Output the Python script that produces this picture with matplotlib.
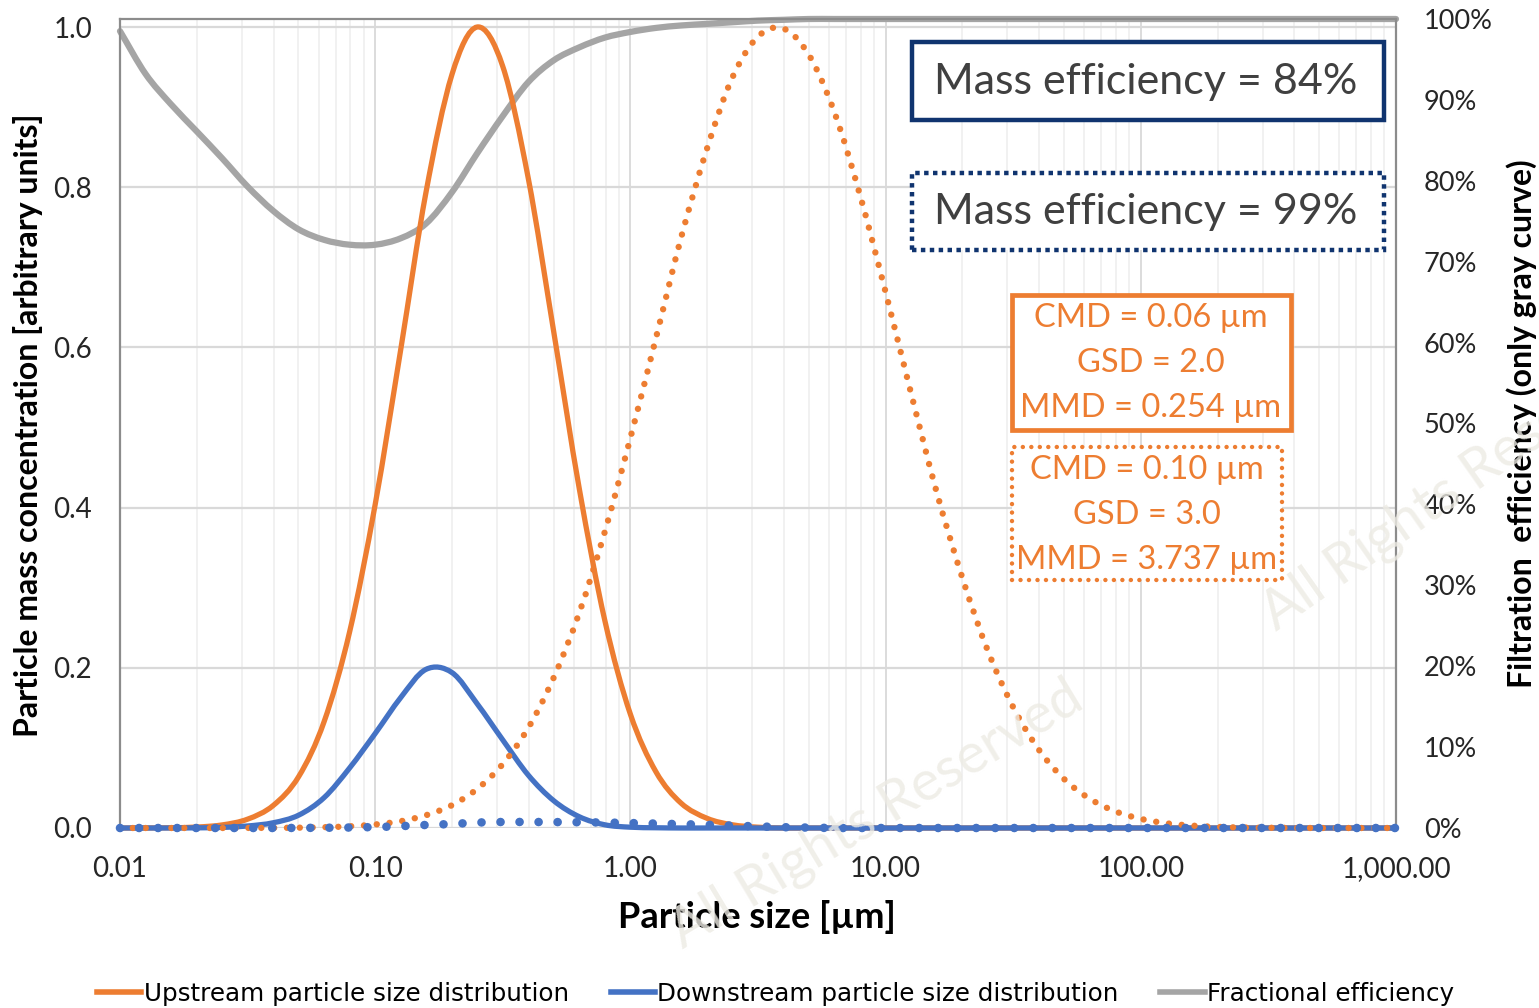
import numpy as np
import matplotlib
matplotlib.use("Agg")
import matplotlib.pyplot as plt
from matplotlib.patches import Rectangle, PathPatch
from matplotlib.path import Path
from matplotlib.ticker import FixedLocator, NullFormatter

# particle sizes [um], 10 per decade
sizes = [0.0100, 0.0126, 0.0158, 0.0200, 0.0251, 0.0316, 0.0398, 0.0501, 0.0631, 0.0794,
         0.100, 0.126, 0.158, 0.200, 0.251, 0.316, 0.398, 0.501, 0.631, 0.794,
         1.00, 1.26, 1.58, 2.00, 2.51, 3.16, 3.98, 5.01, 6.31, 7.94,
         10.0, 12.6, 15.8, 20.0, 25.1, 31.6, 39.8, 50.1, 63.1, 79.4,
         100.0, 126.0, 158.0, 200.0, 251.0, 316.0, 398.0, 501.0, 631.0, 794.0,
         1000.0]

# upstream / downstream, case 1 (solid)
upstream_1 = [0, 0.0001, 0.0003, 0.0012, 0.0038, 0.011, 0.028, 0.064, 0.133, 0.245,
              0.404, 0.598, 0.793, 0.941, 1.000, 0.951, 0.811, 0.619, 0.423, 0.259,
              0.142, 0.070, 0.031, 0.012, 0.004, 0.001, 0, 0, 0, 0,
              0, 0, 0, 0, 0, 0, 0, 0, 0, 0,
              0, 0, 0, 0, 0, 0, 0, 0, 0, 0, 0]
downstream_1 = [0, 0, 0, 0.0002, 0.0007, 0.0025, 0.0065, 0.016, 0.038, 0.075,
                0.118, 0.163, 0.198, 0.194, 0.155, 0.110, 0.066, 0.034, 0.014, 0.004,
                0.001, 0.0003, 0, 0, 0, 0, 0, 0, 0, 0,
                0, 0, 0, 0, 0, 0, 0, 0, 0, 0,
                0, 0, 0, 0, 0, 0, 0, 0, 0, 0, 0]

# upstream / downstream, case 2 (dotted)
upstream_2 = [0, 0, 0, 0, 0, 0.0001, 0.0002, 0.0004, 0.001, 0.0021,
              0.0044, 0.0085, 0.0159, 0.0285, 0.0488, 0.0798, 0.125, 0.188, 0.269, 0.370,
              0.487, 0.612, 0.737, 0.849, 0.937, 0.988, 0.998, 0.965, 0.893, 0.790,
              0.669, 0.542, 0.421, 0.312, 0.222, 0.151, 0.098, 0.061, 0.0365, 0.0208,
              0.0114, 0.0059, 0.003, 0.0014, 0.0006, 0.0003, 0.0001, 0, 0, 0, 0]
downstream_2 = [0, 0, 0, 0, 0, 0, 0, 0.0001, 0.0003, 0.0006,
                0.0012, 0.0023, 0.0038, 0.005, 0.0068, 0.0075, 0.0075, 0.0074, 0.0072, 0.0068,
                0.0062, 0.0055, 0.0048, 0.004, 0.003, 0.002, 0.001, 0.0005, 0, 0,
                0, 0, 0, 0, 0, 0, 0, 0, 0, 0,
                0, 0, 0, 0, 0, 0, 0, 0, 0, 0, 0]

# fractional efficiency (right axis)
efficiency = [0.985, 0.932, 0.895, 0.861, 0.828, 0.793, 0.763, 0.740, 0.727, 0.721,
              0.721, 0.729, 0.747, 0.786, 0.834, 0.880, 0.922, 0.949, 0.965, 0.977,
              0.984, 0.989, 0.992, 0.994, 0.996, 0.998, 0.999, 1.0, 1.0, 1.0,
              1.0, 1.0, 1.0, 1.0, 1.0, 1.0, 1.0, 1.0, 1.0, 1.0,
              1.0, 1.0, 1.0, 1.0, 1.0, 1.0, 1.0, 1.0, 1.0, 1.0, 1.0]

x_ticks = [0.01, 0.1, 1, 10, 100, 1000]
x_ticklabels = ["0.01", "0.10", "1.00", "10.00", "100.00", "1,000.00"]
y_ticks = [0.0, 0.2, 0.4, 0.6, 0.8, 1.0]
y2_ticks = [0.0, 0.1, 0.2, 0.3, 0.4, 0.5, 0.6, 0.7, 0.8, 0.9, 1.0]

ORANGE = "#ED7D31"
BLUE = "#4472C4"
GRAY = "#A5A5A5"
NAVY = "#10346F"
W, H = 1539, 1008

plt.rcParams["font.family"] = ["Lato", "DejaVu Sans"]


def smooth_path(xs, ys):
    # smoothed line like a spreadsheet chart: cubic Bezier segments
    # through the data points (Catmull-Rom tangents, in log-x space)
    lx = np.log10(xs)
    y = np.asarray(ys, float)
    h = np.diff(lx)
    m = np.zeros_like(y)
    m[0] = (y[1] - y[0]) / h[0]
    m[-1] = (y[-1] - y[-2]) / h[-1]
    m[1:-1] = (y[2:] - y[:-2]) / (lx[2:] - lx[:-2])
    verts = [(xs[0], y[0])]
    codes = [Path.MOVETO]
    for k in range(len(y) - 1):
        c1 = (10 ** (lx[k] + h[k] / 3), y[k] + m[k] * h[k] / 3)
        c2 = (10 ** (lx[k + 1] - h[k] / 3), y[k + 1] - m[k + 1] * h[k] / 3)
        verts += [c1, c2, (xs[k + 1], y[k + 1])]
        codes += [Path.CURVE4] * 3
    return Path(verts, codes)


def draw_curve(a, xs, ys, color, lw, ls="-", cap="round", z=3):
    p = PathPatch(smooth_path(xs, ys), fill=False, edgecolor=color, lw=lw,
                  linestyle=ls, clip_on=False, zorder=z)
    p.set_capstyle(cap)
    a.add_patch(p)


fig = plt.figure(figsize=(W / 100, H / 100), dpi=100)
ax2 = fig.add_axes([120 / W, 1 - 828 / H, 1276 / W, 809 / H])
ax = fig.add_axes(ax2.get_position(), sharex=ax2)
ax.patch.set_alpha(0)
ax2.yaxis.tick_right()

ax.set_xscale("log")
ax.set_xlim(0.01, 1000)
ax.set_ylim(0, 1.01)
ax2.set_ylim(0, 1.0)

# grid (drawn on bottom axes)
for xv in x_ticks:
    ax2.axvline(xv, color="#D9D9D9", lw=1.3, zorder=0)
minor = [m * 10.0 ** e for e in range(-2, 3) for m in range(2, 10)]
for xv in minor:
    ax2.axvline(xv, color="#F0F0F0", lw=1.3, zorder=0)
for yv in y_ticks:
    ax2.axhline(yv / 1.01, color="#D9D9D9", lw=1.6, zorder=0)

# gray efficiency curve on right axis
draw_curve(ax2, sizes, efficiency, GRAY, 4.5, z=2)

draw_curve(ax, sizes, upstream_1, ORANGE, 3.8, z=3)
draw_curve(ax, sizes, downstream_1, BLUE, 3.8, z=4)
draw_curve(ax, sizes, upstream_2, ORANGE, 4.6, (0, (0.01, 2.0)), z=5)
draw_curve(ax, sizes, downstream_2, BLUE, 6.2, (0, (0.01, 2.2)), z=5)

ax.xaxis.set_major_locator(FixedLocator(x_ticks))
ax.set_xticklabels(x_ticklabels)
ax.xaxis.set_minor_formatter(NullFormatter())
ax.set_yticks(y_ticks)
ax.set_yticklabels(["0.0", "0.2", "0.4", "0.6", "0.8", "1.0"])
ax2.set_yticks(y2_ticks)
ax2.set_yticklabels([f"{int(round(v * 100))}%" for v in y2_ticks])

for a in (ax, ax2):
    a.tick_params(axis="both", which="both", length=0, labelsize=20, colors="#262626")
ax2.tick_params(axis="y", labelsize=19.5)
ax2.tick_params(axis="x", labelbottom=False)
ax.tick_params(axis="x", pad=20)
ax.tick_params(axis="y", pad=20)
ax2.tick_params(axis="y", pad=20)
for sp in ax.spines.values():
    sp.set_visible(False)
for name, sp in ax2.spines.items():
    sp.set_color("#8C8C8C")
    sp.set_linewidth(1.6)
ax2.spines["bottom"].set_visible(False)

fig.text(757 / W, 1 - 917 / H, "Particle size [µm]", fontsize=26, fontweight="bold",
         ha="center", va="center")
fig.text(28 / W, 1 - 425 / H, "Particle mass concentration [arbitrary units]", rotation=90,
         fontsize=23, fontweight="bold", ha="center", va="center")
fig.text(1522 / W, 1 - 424 / H, "Filtration  efficiency (only gray curve)",
         rotation=90, fontsize=23, fontweight="bold", ha="center", va="center")


# annotation boxes
def box(x0, y0, x1, y1, color, lw, ls, capstyle="butt"):
    r = Rectangle((x0 / W, 1 - y1 / H), (x1 - x0) / W, (y1 - y0) / H,
                  transform=fig.transFigure, fill=True, facecolor="white",
                  edgecolor=color, lw=lw, linestyle=ls, zorder=10)
    r.set_capstyle(capstyle)
    fig.patches.append(r)


box(912, 42, 1384, 120, NAVY, 3.2, "-")
box(912, 173, 1384, 250, NAVY, 3.2, (0, (1.0, 1.0)))
box(1012, 295, 1291, 430, ORANGE, 3.4, "-")
box(1012, 447, 1282, 580, ORANGE, 3.2, (0, (0.01, 1.9)), "round")

fig.text(1146 / W, 1 - 82 / H, "Mass efficiency = 84%", fontsize=31,
         color="#404040", ha="center", va="center", zorder=11)
fig.text(1146 / W, 1 - 212 / H, "Mass efficiency = 99%", fontsize=31,
         color="#404040", ha="center", va="center", zorder=11)
for i, s in enumerate(["CMD = 0.06 µm", "GSD = 2.0", "MMD = 0.254 µm"]):
    fig.text(1151 / W, 1 - (318 + 45 * i) / H, s, fontsize=23.5, color=ORANGE,
             ha="center", va="center", zorder=11)
for i, s in enumerate(["CMD = 0.10 µm", "GSD = 3.0", "MMD = 3.737 µm"]):
    fig.text(1147 / W, 1 - (470 + 45 * i) / H, s, fontsize=23.5, color=ORANGE,
             ha="center", va="center", zorder=11)

# watermarks
fig.text(688 / W, 1 - 958 / H, "All Rights Reserved", fontsize=40, color="#EDEBE4",
         rotation=31, rotation_mode="anchor", ha="left", va="bottom", zorder=12, alpha=0.8)
fig.text(1282 / W, 1 - 640 / H, "All Rights Reserved", fontsize=40, color="#EDEBE4",
         rotation=35, rotation_mode="anchor", ha="left", va="bottom", zorder=12, alpha=0.8)

# legend
handles = [plt.Line2D([], [], color=ORANGE, lw=4),
           plt.Line2D([], [], color=BLUE, lw=4),
           plt.Line2D([], [], color=GRAY, lw=4)]
labels = ["Upstream particle size distribution", "Downstream particle size distribution",
          "Fractional efficiency"]
fig.legend(handles, labels, loc="lower center", bbox_to_anchor=(0.504, -0.02), ncol=3,
           frameon=False, handlelength=1.8, handletextpad=0.1, columnspacing=1.7,
           prop={"family": ["Liberation Sans Narrow", "DejaVu Sans"], "size": 17.7})

fig.savefig("out.png", dpi=100)
